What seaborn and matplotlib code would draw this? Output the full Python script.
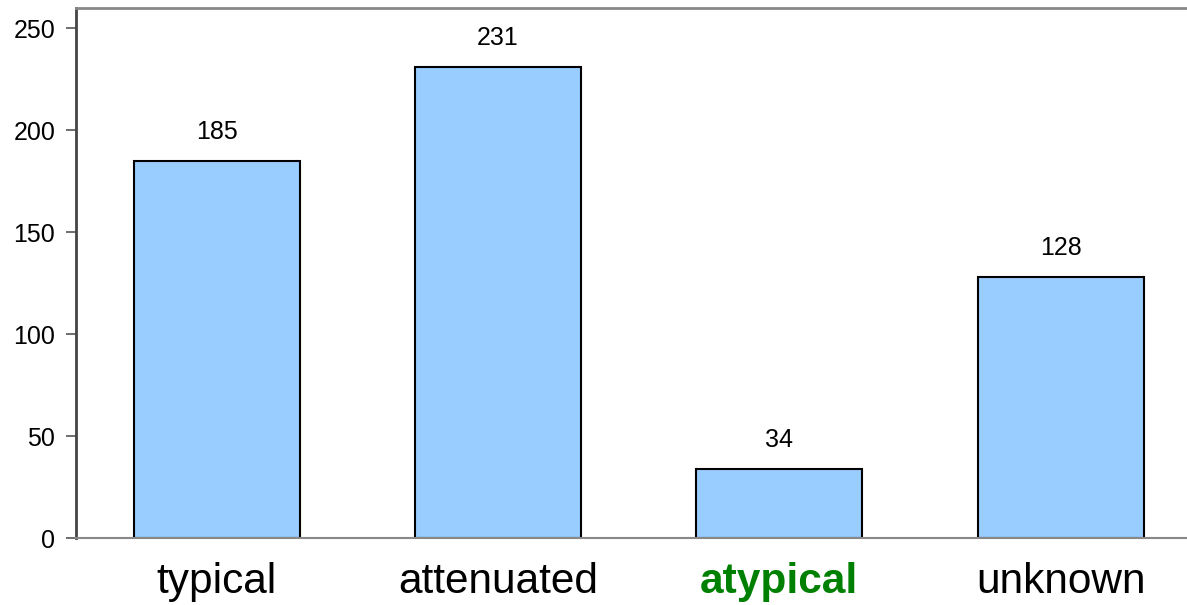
import matplotlib
matplotlib.use("Agg")
import matplotlib.pyplot as plt
import seaborn as sns
import pandas as pd

categories = ["typical", "attenuated", "atypical", "unknown"]
counts = [185, 231, 34, 128]
y_ticks = [0, 50, 100, 150, 200, 250]

sns.set_theme(style="white")
plt.rcParams["font.family"] = ["Liberation Sans", "DejaVu Sans"]

df = pd.DataFrame({"category": categories, "count": counts})

fig = plt.figure(figsize=(11.87, 6.05), dpi=100)
ax = fig.add_axes([76 / 1187, 1 - 538 / 605, 1 - 76 / 1187 + 0.012, 530 / 605])

sns.barplot(data=df, x="category", y="count", order=categories,
            color="#99CCFF", saturation=1, width=0.59,
            edgecolor="black", linewidth=1.5, ax=ax)

for i, v in enumerate(counts):
    ax.annotate(str(v), xy=(i, v), xytext=(0, 12), textcoords="offset points",
                ha="center", va="bottom", fontsize=18, color="black")

ax.set_ylim(0, 260)
ax.set_xlim(-0.5, 3.5)
ax.set_yticks(y_ticks)
ax.set_xlabel("")
ax.set_ylabel("")

ax.tick_params(axis="y", which="both", left=True, length=7, width=1.2,
               color="#555555", labelsize=18, labelcolor="black", pad=8)
ax.tick_params(axis="x", bottom=False, labelsize=30.5, pad=11)

for lbl in ax.get_xticklabels():
    if lbl.get_text() == "atypical":
        lbl.set_color("#008000")
        lbl.set_fontweight("bold")
    else:
        lbl.set_color("black")

ax.spines["left"].set_color("#444444")
ax.spines["left"].set_linewidth(2)
ax.spines["top"].set_color("#888888")
ax.spines["top"].set_linewidth(2)
ax.spines["bottom"].set_color("#888888")
ax.spines["bottom"].set_linewidth(1.5)
ax.spines["right"].set_visible(False)

fig.savefig("out.png", dpi=100)
